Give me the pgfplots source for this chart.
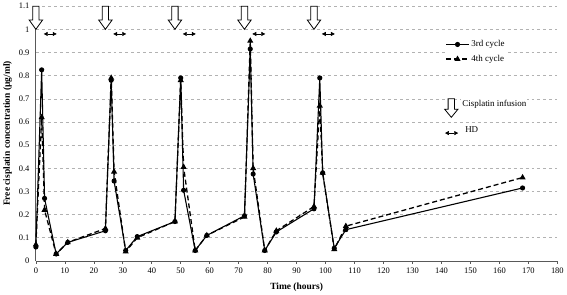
\documentclass[border=0pt]{standalone}
\usepackage{pgfplots}
\pgfplotsset{compat=1.18}
\usepackage{fontspec}
\setmainfont{Liberation Serif}
\usetikzlibrary{arrows.meta}
\begin{document}
\begin{tikzpicture}[x=1bp,y=1bp]
\begin{axis}[
  scale only axis,
  width=522bp, height=255bp,
  xmin=0, xmax=180, ymin=0, ymax=1.1,
  axis x line*=bottom, axis y line*=left,
  axis line style={gray!70!black, line width=0.8pt, -},
  xtick={0,10,...,180},
  ytick={0,0.1,0.2,0.3,0.4,0.5,0.6,0.7,0.8,0.9,1,1.1},
  yticklabels={0,0.1,0.2,0.3,0.4,0.5,0.6,0.7,0.8,0.9,1,1.1},
  xtick style={gray!70!black, line width=0.6pt},
  ytick style={draw=none},
  tick align=outside,
  major tick length=3pt,
  ymajorgrids,
  major grid style={dashed, gray!60, line width=0.6pt},
  /pgf/number format/assume math mode=true,
  tick label style={font=\fontsize{8.5}{10}\selectfont},
  xlabel={\textbf{Time (hours)}},
  ylabel={\textbf{Free cisplatin concentration (µg/ml)}},
  label style={font=\fontsize{9.5}{11}\selectfont},
  xlabel style={yshift=-3pt},
  ylabel style={yshift=0pt},
  clip=false,
  legend style={draw=none, fill=white, font=\fontsize{9}{11}\selectfont,
    at={(axis cs:141,0.965)}, anchor=north west, row sep=3pt,
    inner sep=1pt},
  legend cell align=left,
  legend image code/.code={\draw[mark repeat=2,mark phase=2,#1] plot coordinates {(0cm,0cm) (0.4cm,0cm) (0.8cm,0cm)};},
]
\addplot[black, line width=1.1pt, mark=*, mark size=2pt, mark options={solid}] table {
x y
0 0.06
2 0.825
3 0.27
7 0.03
11 0.08
24 0.13
26 0.78
27 0.345
31 0.045
35 0.105
48 0.17
50 0.79
51 0.305
55 0.045
59 0.11
72 0.195
74 0.915
75 0.375
79 0.045
83 0.125
96 0.225
98 0.79
99 0.38
103 0.055
107 0.135
168 0.315
};
\addlegendentry{3rd cycle}
\addplot[black, line width=1.3pt, dashed, dash pattern=on 5pt off 3pt, mark=triangle*, mark size=2.3pt, mark options={solid}] table {
x y
0 0.07
2 0.62
3 0.22
7 0.03
11 0.08
24 0.14
26 0.79
27 0.385
31 0.04
35 0.10
48 0.17
50 0.78
51 0.405
55 0.045
59 0.11
72 0.19
74 0.95
75 0.40
79 0.045
83 0.13
96 0.235
98 0.67
99 0.38
103 0.05
107 0.15
168 0.36
};
\addlegendentry{4th cycle}
% infusion arrows
\foreach \t in {0,24,48,72,96} {
  \edef\temp{\noexpand\draw[black, fill=white, line width=0.8pt, line join=miter]
    (axis cs:\t-1.1,1.1) -- (axis cs:\t+1.1,1.1) -- (axis cs:\t+1.1,1.04) -- (axis cs:\t+2.3,1.04)
    -- (axis cs:\t,1.0) -- (axis cs:\t-2.3,1.04) -- (axis cs:\t-1.1,1.04) -- cycle;}
  \temp
  \edef\temp{\noexpand\draw[black, line width=0.6pt, solid, arrows={Triangle[length=4pt,width=4pt]-Triangle[length=4pt,width=4pt]}]
    (axis cs:\t+2.7,0.98) -- (axis cs:\t+7.2,0.98);}
  \temp
}
% key for infusion and HD
\draw[black, fill=white, line width=0.8pt, line join=miter]
    (axis cs:142.3,0.70) -- (axis cs:144.5,0.70) -- (axis cs:144.5,0.655) -- (axis cs:145.7,0.655)
    -- (axis cs:143.4,0.62) -- (axis cs:141.1,0.655) -- (axis cs:142.3,0.655) -- cycle;
\node[anchor=west, font=\fontsize{9}{11}\selectfont, fill=white, inner sep=1pt] at (axis cs:146.8,0.675) {Cisplatin infusion};
\draw[black, line width=0.6pt, solid, arrows={Triangle[length=4pt,width=4pt]-Triangle[length=4pt,width=4pt]}]
    (axis cs:141.2,0.552) -- (axis cs:145.8,0.552);
\node[anchor=west, font=\fontsize{9}{11}\selectfont, inner sep=1pt] at (axis cs:147.8,0.565) {HD};
\end{axis}
\end{tikzpicture}
\end{document}
